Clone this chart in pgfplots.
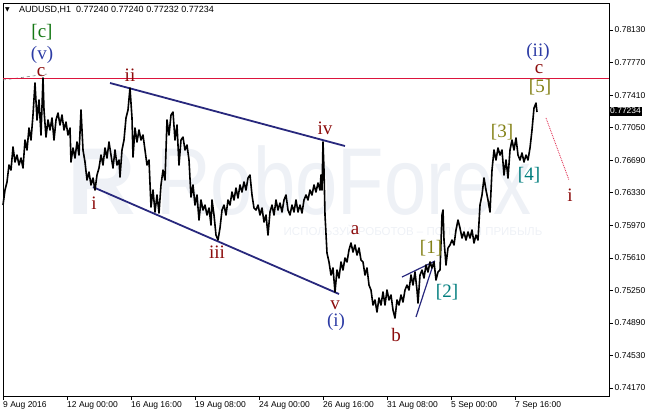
\documentclass[border=0pt]{standalone}
\usepackage{pgfplots}
\pgfplotsset{compat=1.18}
\usepackage{pgfplotstable}
\usepackage{fontspec}
\setmainfont{Liberation Serif}
\newfontfamily\uifont{Liberation Sans}
\newfontfamily\symfont{DejaVu Sans}
\definecolor{wavered}{RGB}{140,12,12}
\definecolor{waveblue}{RGB}{45,60,165}
\definecolor{wavegreen}{RGB}{20,120,20}
\definecolor{waveolive}{RGB}{130,128,20}
\definecolor{waveteal}{RGB}{0,125,125}
\definecolor{chan}{RGB}{40,40,125}
\definecolor{crim}{RGB}{220,20,60}
\definecolor{wm}{RGB}{238,241,246}
\pgfplotstableread{
x p
3 0.76194
5 0.76360
7 0.76449
9 0.76637
11 0.76581
13 0.76836
15 0.76670
17 0.76747
19 0.76637
21 0.76714
23 0.76604
25 0.76913
27 0.76803
29 0.77046
31 0.76913
33 0.77190
35 0.77544
37 0.77135
39 0.77356
41 0.76969
43 0.77599
44 0.77245
46 0.76946
48 0.77135
50 0.77024
52 0.77157
54 0.76913
56 0.77135
58 0.77212
60 0.77079
62 0.77190
64 0.77024
66 0.77112
68 0.76969
70 0.77046
71 0.76670
73 0.76825
75 0.76714
77 0.76891
79 0.76747
81 0.77245
83 0.76803
85 0.76670
87 0.76471
89 0.76559
91 0.76416
93 0.76493
95 0.76360
97 0.76526
99 0.76604
101 0.76747
103 0.76637
105 0.76825
107 0.76714
109 0.76891
111 0.76747
113 0.76604
115 0.76803
117 0.76637
119 0.76692
120 0.76504
122 0.76803
124 0.76913
126 0.77157
128 0.77245
130 0.77488
132 0.77157
133 0.76725
135 0.77046
137 0.76891
139 0.77024
141 0.76913
143 0.76969
145 0.76803
147 0.76637
149 0.76692
151 0.76172
153 0.76360
155 0.76117
157 0.76305
159 0.76106
161 0.76416
163 0.76581
165 0.76471
167 0.77135
169 0.76969
171 0.77190
173 0.77223
175 0.76913
177 0.77079
179 0.76637
181 0.76913
183 0.76946
185 0.76803
187 0.76858
189 0.76692
191 0.76283
193 0.76416
195 0.76194
197 0.76305
199 0.76028
201 0.76250
203 0.76139
205 0.76194
207 0.76084
209 0.76161
211 0.75973
212 0.76250
214 0.76084
216 0.75862
218 0.75807
220 0.75940
222 0.76139
224 0.76194
226 0.76084
228 0.76250
230 0.76194
232 0.76338
234 0.76250
236 0.76382
238 0.76272
240 0.76416
242 0.76338
244 0.76449
246 0.76360
248 0.76493
250 0.76526
252 0.76305
254 0.76161
256 0.76139
258 0.76194
260 0.76084
262 0.76161
264 0.76006
266 0.76084
268 0.75862
270 0.76117
272 0.76194
274 0.76084
276 0.76250
278 0.76139
280 0.76216
282 0.76117
284 0.76250
286 0.76305
288 0.76139
290 0.76084
292 0.76194
294 0.76117
296 0.76250
298 0.76117
300 0.76194
302 0.76106
304 0.76250
306 0.76305
308 0.76250
310 0.76360
312 0.76305
314 0.76416
316 0.76338
318 0.76438
320 0.76360
321 0.76526
322 0.76360
323 0.76891
324 0.76581
325 0.76084
327 0.75663
329 0.75564
331 0.75420
333 0.75498
335 0.75232
337 0.75475
339 0.75387
341 0.75564
343 0.75475
345 0.75608
347 0.75564
349 0.75697
351 0.75774
353 0.75674
355 0.75752
357 0.75641
359 0.75719
361 0.75586
363 0.75564
365 0.75420
367 0.75498
369 0.75309
371 0.75254
373 0.75088
375 0.75144
377 0.75011
379 0.75166
381 0.75088
383 0.75232
385 0.75088
387 0.75254
389 0.75144
391 0.75199
393 0.75033
395 0.74944
397 0.75144
399 0.75088
401 0.75199
403 0.75121
405 0.75254
407 0.75309
409 0.75254
411 0.75420
413 0.75309
415 0.75453
417 0.75254
418 0.75110
420 0.75420
422 0.75475
424 0.75387
426 0.75531
428 0.75453
430 0.75564
432 0.75498
434 0.75564
436 0.75365
438 0.75453
440 0.75475
442 0.76084
443 0.76139
444 0.75807
446 0.75531
448 0.75719
450 0.75752
452 0.75807
454 0.75752
456 0.75918
458 0.76028
460 0.75940
462 0.75829
464 0.75896
466 0.75807
468 0.75896
470 0.75829
472 0.75918
474 0.75774
476 0.75862
478 0.75807
480 0.76194
482 0.76305
484 0.76493
486 0.76360
488 0.76250
490 0.76117
492 0.76581
494 0.76803
496 0.76692
498 0.76825
500 0.76747
502 0.76803
504 0.76526
506 0.76692
508 0.76493
510 0.76803
512 0.76913
514 0.76803
516 0.76936
518 0.76747
520 0.76692
522 0.76770
524 0.76670
526 0.76747
528 0.76692
530 0.76825
532 0.77024
534 0.77267
536 0.77322
537 0.77223
}\price
\begin{document}
\begin{tikzpicture}[x=1pt,y=1pt]
\path[use as bounding box] (0,0) rectangle (646,414);
\begin{axis}[
  at={(3pt,18pt)}, anchor=south west,
  scale only axis, width=606pt, height=393pt,
  xmin=3, xmax=609, ymin=0.74082, ymax=0.78429,
  clip=false,
  axis line style={black, line width=0.8pt},
  xtick={3,67,131,195,259,323,387,451,515},
  xticklabels={9 Aug 2016,12 Aug 00:00,16 Aug 16:00,19 Aug 08:00,24 Aug 00:00,26 Aug 16:00,31 Aug 08:00,5 Sep 00:00,7 Sep 16:00},
  ytick={0.74170,0.74530,0.74890,0.75250,0.75610,0.75970,0.76330,0.76690,0.77050,0.77410,0.77770,0.78130},
  xtick pos=left, ytick pos=right, yticklabel pos=right,
  tick align=outside, major tick length=4pt,
  tick style={black, line width=0.6pt},
  ticklabel style={font=\uifont\fontsize{8.5}{10}\selectfont},
  xticklabel style={anchor=north west, inner sep=1pt, xshift=-1pt},
  yticklabel style={anchor=west, inner sep=1.5pt, /pgf/number format/fixed, /pgf/number format/fixed zerofill, /pgf/number format/precision=5},
  /pgf/number format/assume math mode=true,
]
% watermark
\node[text=wm, font=\uifont\bfseries\fontsize{95}{95}\selectfont, anchor=base] at (axis cs:102,0.76084) {R};
\node[text=wm, font=\uifont\fontsize{95}{95}\selectfont, anchor=base, xscale=0.80] at (axis cs:344,0.76084) {RoboForex};
\node[text=wm, font=\uifont\fontsize{11.5}{12}\selectfont] at (axis cs:413,0.75918) {ИСПОЛЬЗУЙ РОБОТОВ – ПОЛУЧАЙ ПРИБЫЛЬ};
% lines
\addplot[gray, dashed, line width=0.6pt] coordinates {(3,0.77577) (47,0.77643)};
\addplot[crim, line width=0.8pt] coordinates {(3,0.77599) (609,0.77599)};
\addplot[chan, line width=1.8pt] coordinates {(110,0.77544) (345,0.76847)};
\addplot[chan, line width=1.8pt] coordinates {(93,0.76393) (339,0.75210)};
\addplot[chan, line width=1.2pt] coordinates {(402,0.75398) (435,0.75575)};
\addplot[chan, line width=1.2pt] coordinates {(416,0.74956) (434,0.75564)};
\addplot[crim, densely dotted, line width=0.8pt] coordinates {(546,0.77157) (569,0.76471)};
% price
\addplot[black, line width=1.6pt, line join=round] table[x=x, y=p] {\price};
% labels
\begin{scope}[every node/.style={font=\fontsize{19}{19}\selectfont, inner sep=0pt}]
\node[text=wavegreen] at (axis cs:42,0.78108) {[c]};
\node[text=waveblue] at (axis cs:42,0.77853) {(v)};
\node[text=wavered] at (axis cs:41,0.77665) {c};
\node[text=wavered] at (axis cs:130,0.77632) {ii};
\node[text=wavered] at (axis cs:94,0.76216) {i};
\node[text=wavered] at (axis cs:217,0.75674) {iii};
\node[text=wavered] at (axis cs:325,0.77046) {iv};
\node[text=wavered] at (axis cs:335,0.75088) {v};
\node[text=waveblue] at (axis cs:336,0.74900) {(i)};
\node[text=wavered] at (axis cs:355,0.75918) {a};
\node[text=wavered] at (axis cs:396,0.74756) {b};
\node[text=waveolive] at (axis cs:431,0.75719) {[1]};
\node[text=waveteal] at (axis cs:447,0.75232) {[2]};
\node[text=waveolive] at (axis cs:502,0.76998) {[3]};
\node[text=waveteal] at (axis cs:529,0.76526) {[4]};
\node[text=waveolive] at (axis cs:540,0.77499) {[5]};
\node[text=wavered] at (axis cs:539,0.77699) {c};
\node[text=waveblue] at (axis cs:538,0.77887) {(ii)};
\node[text=wavered] at (axis cs:570,0.76305) {i};
\end{scope}
% header and price tag
\node[anchor=west, inner sep=0pt, font=\symfont\fontsize{6}{6}\selectfont] at (axis cs:5,0.78351) {▼};
\node[anchor=west, inner sep=0pt, font=\uifont\fontsize{9}{10}\selectfont] at (axis cs:19,0.78351) {AUDUSD,H1\ \ 0.77240 0.77240 0.77232 0.77234};
\node[anchor=west, fill=black, text=white, inner xsep=1pt, inner ysep=1.5pt, font=\uifont\fontsize{8.5}{9}\selectfont] at (axis cs:609,0.77234) {0.77234};
\end{axis}
\end{tikzpicture}
\end{document}
